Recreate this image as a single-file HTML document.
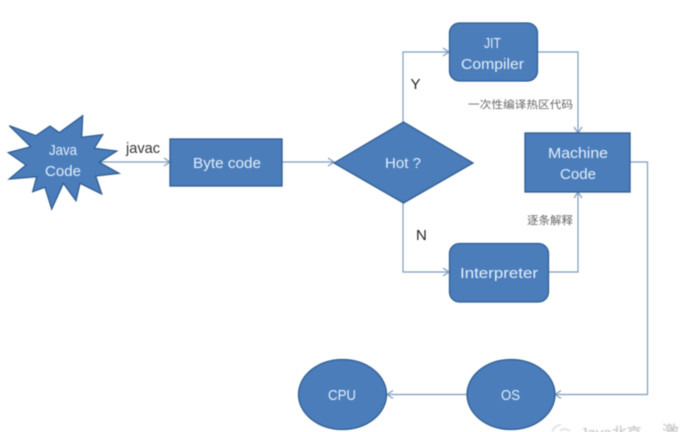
<!DOCTYPE html>
<html>
<head>
<meta charset="utf-8">
<style>
html,body{margin:0;padding:0;background:#fff;width:682px;height:432px;overflow:hidden}
svg{display:block}
text{font-family:"Liberation Sans","Noto Sans CJK SC",sans-serif}
.w{fill:#e4eefa;font-size:15px;text-anchor:start}
.s{fill:#4a7dba;stroke:#2f5d92;stroke-width:1.3}
.c{fill:none;stroke:#7d9cbf;stroke-width:1.2}
</style>
</head>
<body>
<svg width="682" height="432" viewBox="0 0 682 432" xmlns="http://www.w3.org/2000/svg">
<g style="filter:blur(0.5px)">
<!-- connectors -->
<path class="c" d="M100 162H170M164 158L170 162L164 166"/>
<path class="c" d="M282 162H334M328 158L334 162L328 166"/>
<path class="c" d="M403 122V52H449M443 48L449 52L443 56"/>
<path class="c" d="M403 203V272H449M443 268L449 272L443 276"/>
<path class="c" d="M537 52H578V133M574 127L578 133L582 127"/>
<path class="c" d="M549 272H578V192M574 198L578 192L582 198"/>
<path class="c" d="M630 162H647.5V394.5H555M561 390.5L555 394.5L561 398.5"/>
<path class="c" d="M467 394.5H387M393 390.5L387 394.5L393 398.5"/>
<!-- shapes -->
<polygon class="s" points="9.3,125.700 36,135.700 50,126 59.300,132.700 82.700,115.700 81.700,137.300 102.700,134.700 94.300,148.300 116.700,151 99.300,162.300 119,173.300 95.700,176 101.700,194 80,183.300 76,200.700 63.300,183.300 51.700,209 45,187.300 32.700,191.700 36.700,176.700 9.300,179 26,165 8.300,152.700 30.700,146.700"/>
<rect class="s" x="170" y="139" width="112" height="47"/>
<polygon class="s" points="334,163 403.5,122 473,163 403.5,203"/>
<rect class="s" x="449.5" y="23" width="88" height="58" rx="10" ry="10"/>
<rect class="s" x="525" y="133" width="105" height="59"/>
<rect class="s" x="449.5" y="243.500" width="99" height="58.500" rx="10" ry="10"/>
<ellipse class="s" cx="511" cy="394.500" rx="44" ry="35"/>
<ellipse class="s" cx="342.500" cy="394.500" rx="44" ry="35"/>
<!-- labels in shapes -->
<text class="w" x="49" y="155" textLength="28" lengthAdjust="spacingAndGlyphs">Java</text>
<text class="w" x="45" y="176" textLength="36" lengthAdjust="spacingAndGlyphs">Code</text>
<text class="w" x="193" y="168" textLength="68" lengthAdjust="spacingAndGlyphs">Byte code</text>
<text class="w" x="385" y="168" textLength="36" lengthAdjust="spacingAndGlyphs">Hot ?</text>
<text class="w" x="484" y="48" textLength="17" lengthAdjust="spacingAndGlyphs">JIT</text>
<text class="w" x="461" y="69" textLength="63" lengthAdjust="spacingAndGlyphs">Compiler</text>
<text class="w" x="548" y="158" textLength="60" lengthAdjust="spacingAndGlyphs">Machine</text>
<text class="w" x="560" y="179" textLength="36" lengthAdjust="spacingAndGlyphs">Code</text>
<text class="w" x="460" y="278" textLength="78" lengthAdjust="spacingAndGlyphs">Interpreter</text>
<text class="w" x="501" y="400" textLength="19" lengthAdjust="spacingAndGlyphs">OS</text>
<text class="w" x="328" y="400" textLength="28" lengthAdjust="spacingAndGlyphs">CPU</text>
<!-- outer labels -->
<text x="126" y="153" font-size="14.500" fill="#333" textLength="34" lengthAdjust="spacingAndGlyphs">javac</text>
<text x="410.500" y="89" font-size="15" fill="#222">Y</text>
<text x="416" y="240" font-size="15" fill="#222">N</text>
<text x="468" y="108" font-size="10.500" fill="#666" textLength="105" lengthAdjust="spacingAndGlyphs">一次性编译热区代码</text>
<text x="527" y="224" font-size="11" fill="#666" textLength="46" lengthAdjust="spacingAndGlyphs">逐条解释</text>
</g>
<!-- watermark -->
<g style="filter:blur(0.8px)">
<path d="M552 432Q555 425 561 425M560 431Q564 427 570 431" fill="none" stroke="#d4d4d4" stroke-width="1.200"/>
<text x="580" y="438" font-size="15" fill="#bcbcbc">Java北京</text>
<text x="662" y="438" font-size="17" fill="#bcbcbc">激</text>
</g>
</svg>
</body>
</html>
